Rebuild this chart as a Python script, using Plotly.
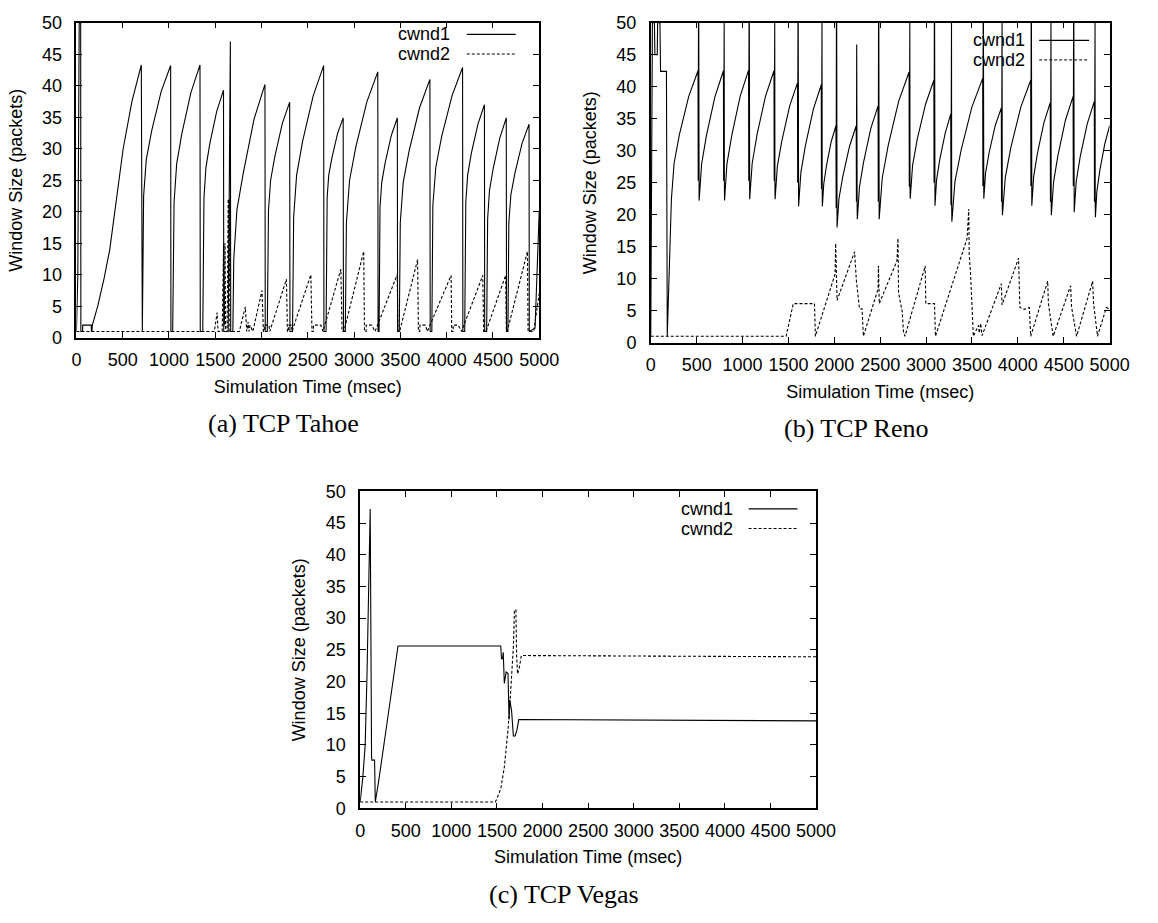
import plotly.graph_objects as go

# ---------------- data (time in msec, window in packets) ----------------
X_TICKS = [0, 500, 1000, 1500, 2000, 2500, 3000, 3500, 4000, 4500, 5000]
Y_TICKS = [0, 5, 10, 15, 20, 25, 30, 35, 40, 45, 50]
SERIES_NAMES = ["cwnd1", "cwnd2"]
CAPTIONS = ["(a) TCP Tahoe", "(b) TCP Reno", "(c) TCP Vegas"]

TAHOE_CWND1 = [
    (0, 1), (15, 10), (30, 50), (46, 50), (48, 1), (67, 1), (68, 2), (160, 2), (162, 1), (168, 1),
    (172, 2), (230, 5), (300, 9.5), (360, 14), (505, 30), (600, 37.5), (701, 43.3),
    (704, 1), (712, 1), (726, 22.5), (755, 28.3), (814, 32.9), (916, 39.1), (1018, 43.2),
    (1021, 1), (1040, 1), (1055, 21.5), (1083, 27.6), (1139, 32.4), (1237, 38.9), (1335, 43.3),
    (1338, 1), (1365, 1), (1378, 22.2), (1399, 27.0), (1441, 30.8), (1515, 35.9), (1589, 39.3),
    (1592, 1), (1640, 1), (1663, 47), (1667, 1), (1690, 1), (1700, 12.5), (1734, 20.3),
    (1801, 26), (1919, 34.7), (2037, 40.2),
    (2040, 1), (2062, 1), (2075, 20.2), (2098, 25.0), (2144, 28.8), (2224, 34.0), (2304, 37.4),
    (2307, 1), (2335, 1), (2347, 19.1), (2379, 25.8), (2444, 31.2), (2558, 38.4), (2671, 43.2),
    (2674, 1), (2697, 1), (2709, 22.3), (2726, 25.8), (2761, 28.6), (2821, 32.4), (2882, 34.9),
    (2885, 1), (2905, 1), (2917, 18.3), (2951, 25.0), (3019, 30.3), (3137, 37.4), (3256, 42.2),
    (3259, 1), (3270, 1), (3280, 20.7), (3299, 24.7), (3336, 27.8), (3402, 32.1), (3467, 34.9),
    (3470, 1), (3488, 1), (3499, 18.3), (3531, 24.7), (3595, 29.7), (3707, 36.5), (3819, 41.0),
    (3822, 1), (3840, 1), (3851, 21.0), (3883, 27.1), (3947, 32.0), (4060, 38.5), (4172, 42.9),
    (4175, 1), (4195, 1), (4207, 21.5), (4227, 25.8), (4267, 29.3), (4338, 33.9), (4408, 37.0),
    (4411, 1), (4432, 1), (4443, 18.9), (4463, 23.4), (4503, 26.9), (4574, 31.7), (4644, 34.9),
    (4647, 1), (4662, 1), (4672, 18.3), (4694, 22.7), (4737, 26.1), (4814, 30.8), (4890, 33.9),
    (4893, 1), (4955, 1.5), (5000, 20),
]

TAHOE_CWND2 = [
    (0, 1), (1490, 1), (1520, 4), (1530, 1), (1575, 1), (1590, 15), (1598, 2), (1605, 15),
    (1612, 1), (1628, 1), (1640, 22), (1646, 8), (1652, 22), (1658, 1), (1760, 1), (1825, 4.9),
    (1840, 1), (1855, 2.5), (1865, 1), (1875, 2), (1906, 1), (2005, 7.5), (2020, 1), (2030, 1),
    (2031, 2), (2080, 2), (2089, 1), (2269, 9.3), (2280, 1), (2290, 1), (2291, 2), (2325, 2),
    (2329, 1), (2533, 10), (2545, 1), (2560, 1), (2561, 2), (2640, 2), (2664, 1), (2857, 10.9),
    (2870, 1), (2890, 1), (3104, 13.7), (3112, 1), (3130, 1), (3131, 2), (3190, 2), (3227, 1),
    (3465, 10), (3475, 1), (3492, 1), (3686, 12.4), (3695, 1), (3710, 1), (3711, 2), (3770, 2),
    (3791, 1), (4048, 9.9), (4055, 1), (4070, 1), (4071, 2), (4125, 2), (4161, 1), (4390, 9.9),
    (4400, 1), (4425, 1), (4637, 9.9), (4645, 1), (4654, 1), (4873, 13.7), (4880, 1), (4940, 1),
    (5000, 7),
]

RENO_CWND1 = [
    (0, 1), (15, 45), (18, 50), (40, 50), (45, 45), (71, 45), (75, 50), (100, 50), (107, 42.4),
    (171, 42.4), (173, 1), (180, 1), (225, 22.4), (254, 28.0), (312, 32.5), (414, 38.5), (515, 42.5),
    (517, 25.3), (520, 50), (523, 50), (525, 25.3), (527, 22.2), (554, 27.9), (607, 32.4), (699, 38.4), (792, 42.5),
    (794, 25.3), (797, 50), (800, 50), (802, 25.3), (804, 22.2), (830, 27.9), (883, 32.4), (974, 38.5), (1066, 42.6),
    (1068, 25.3), (1071, 50), (1074, 50), (1076, 25.3), (1078, 22.4), (1105, 28.0), (1158, 32.5), (1250, 38.5), (1343, 42.5),
    (1345, 25.3), (1348, 50), (1351, 50), (1353, 25.3), (1355, 22.4), (1379, 27.5), (1428, 31.5), (1514, 37.0), (1599, 40.6),
    (1601, 25), (1604, 50), (1607, 50), (1609, 24), (1611, 21.3), (1636, 26.6), (1685, 30.8), (1772, 36.5), (1858, 40.3),
    (1860, 24), (1863, 50), (1866, 50), (1868, 24), (1870, 21.3), (1885, 24.8), (1914, 27.6), (1966, 31.4), (2018, 33.9),
    (2020, 21), (2023, 50), (2026, 50), (2028, 21), (2030, 18.0), (2051, 22.5), (2093, 26), (2166, 30.7), (2239, 33.9),
    (2241, 22), (2244, 46.6), (2247, 22), (2249, 21), (2251, 19.3), (2274, 24.3), (2319, 28.2), (2398, 33.5), (2477, 37.0),
    (2479, 22), (2482, 50), (2485, 50), (2487, 22), (2489, 19.3), (2522, 25.7), (2587, 30.8), (2701, 37.7), (2815, 42.3),
    (2817, 24.4), (2820, 50), (2823, 50), (2825, 24.4), (2827, 22.5), (2853, 27.7), (2904, 31.8), (2995, 37.3), (3085, 41.0),
    (3087, 25), (3090, 50), (3093, 50), (3095, 25), (3097, 21.4), (3114, 25.4), (3149, 28.6), (3209, 32.8), (3269, 35.7),
    (3271, 21.5), (3274, 50), (3277, 50), (3279, 21.5), (3281, 18.9), (3315, 25.2), (3382, 30.1), (3499, 36.8), (3617, 41.3),
    (3619, 24.5), (3622, 50), (3625, 50), (3627, 24.5), (3629, 22.5), (3648, 26.5), (3686, 29.6), (3753, 33.9), (3820, 36.7),
    (3822, 22), (3825, 50), (3828, 50), (3830, 22), (3832, 19.9), (3863, 25.8), (3924, 30.5), (4032, 36.8), (4140, 41.0),
    (4142, 24.5), (4145, 50), (4148, 50), (4150, 24.5), (4152, 21.4), (4172, 25.9), (4212, 29.5), (4283, 34.3), (4353, 37.5),
    (4355, 22), (4358, 50), (4361, 50), (4363, 22), (4365, 19.9), (4389, 25.1), (4436, 29.2), (4519, 34.8), (4602, 38.5),
    (4604, 24.5), (4607, 50), (4610, 50), (4612, 24.5), (4614, 20.4), (4636, 25.2), (4680, 29.1), (4756, 34.2), (4833, 37.7),
    (4835, 22), (4838, 50), (4841, 50), (4843, 22), (4845, 19.6), (4861, 23.6), (4892, 26.8), (4946, 31.0), (5000, 33.9),
]

RENO_CWND2 = [
    (0, 1), (1475, 1), (1553, 6.1), (1784, 6.1), (1794, 1), (2008, 10.7), (2015, 15.5), (2030, 6.6),
    (2221, 14.2), (2240, 9.8), (2274, 5.3), (2302, 5.3), (2317, 1), (2477, 8.4), (2481, 12),
    (2490, 6.1), (2683, 12.8), (2694, 16.3), (2700, 7.8), (2740, 4.8), (2754, 1.6), (2770, 1),
    (2985, 11.7), (2990, 12), (2997, 6.1), (3092, 6.1), (3102, 1), (3447, 16.3), (3465, 20.9),
    (3470, 13.8), (3485, 10.7), (3500, 6.1), (3515, 1), (3571, 2.7), (3580, 1.5), (3595, 3),
    (3610, 1.1), (3820, 9.2), (3828, 5.9), (4008, 13.2), (4015, 9.6), (4022, 5.5), (4070, 5.2),
    (4125, 5.5), (4140, 1), (4325, 9.6), (4333, 6.1), (4385, 1), (4575, 8.9), (4585, 5.6),
    (4640, 1), (4815, 9.6), (4825, 6.1), (4868, 1), (4965, 5.5), (5000, 5.2),
]

VEGAS_CWND1 = [
    (0, 1), (30, 5), (55, 10), (75, 21), (110, 47.2), (118, 8.3), (125, 8.3), (128, 7.6),
    (158, 7.6), (166, 1), (200, 4), (280, 12), (415, 25.6), (1542, 25.6), (1550, 23.6),
    (1561, 23.6), (1569, 24.6), (1581, 19.7), (1601, 21.5), (1621, 21.3), (1633, 14),
    (1640, 17.1), (1660, 15.5), (1680, 11.4), (1700, 11.4), (1720, 12.4), (1739, 14), (5000, 13.8),
]

VEGAS_CWND2 = [
    (0, 1), (1482, 1), (1502, 1.6), (1542, 3.1), (1581, 6.5), (1601, 9.3), (1621, 12.4),
    (1640, 16), (1660, 20.2), (1680, 25.4), (1692, 31.3), (1708, 31.3), (1716, 23.8),
    (1727, 21.2), (1747, 22.3), (1767, 24.1), (5000, 23.9),
]

# ---------------- layout helpers ----------------
W, H = 1158, 923
SANS = "Liberation Sans, Arial, sans-serif"
SERIF = "Liberation Serif, Times New Roman, serif"
FS = 18


def px(x):
    return x / W


def py(y):
    return 1 - y / H


# plot boxes in pixels: (left, right, top, bottom)
BOXES = [(73, 546, 13, 335), (660, 1129, 13, 340), (363, 829, 492, 816)]
LEGEND_POS = [  # text right edge, line x0, line x1, y1, y2
    (457, 472, 522, 25, 45),
    (1045, 1057, 1108, 31, 51),
    (746, 760, 810, 510, 530),
]

panels = [(TAHOE_CWND1, TAHOE_CWND2), (RENO_CWND1, RENO_CWND2), (VEGAS_CWND1, VEGAS_CWND2)]

fig = go.Figure()
annotations = []
shapes = []

for i, ((s1, s2), box) in enumerate(zip(panels, BOXES)):
    sfx = "" if i == 0 else str(i + 1)
    for s, name, dash, lw in ((s1, SERIES_NAMES[0], "solid", 1.1), (s2, SERIES_NAMES[1], "3px,2px", 1.1)):
        fig.add_trace(go.Scatter(
            x=[p[0] for p in s], y=[p[1] for p in s], mode="lines", name=name,
            line=dict(color="black", width=lw, dash=dash),
            xaxis="x" + sfx, yaxis="y" + sfx, showlegend=False, hoverinfo="skip",
        ))
    l, r, t, b = box
    common = dict(
        showline=True, linecolor="black", linewidth=1.5, mirror="ticks",
        ticks="inside", ticklen=6, tickwidth=1, tickcolor="black",
        showgrid=False, zeroline=False,
        tickfont=dict(family=SANS, size=FS, color="black"),
    )
    fig.layout["xaxis" + sfx] = dict(
        domain=[px(l), px(r)], anchor="y" + sfx, range=[0, 5000],
        tickvals=X_TICKS, ticktext=[str(v) for v in X_TICKS], ticklabelstandoff=5,
        title=dict(text="Simulation Time (msec)", font=dict(family=SANS, size=FS, color="black"), standoff=11),
        **common,
    )
    fig.layout["yaxis" + sfx] = dict(
        domain=[py(b), py(t)], anchor="x" + sfx, range=[0, 50],
        tickvals=Y_TICKS, ticktext=[str(v) for v in Y_TICKS], ticklabelstandoff=9,
        title=dict(text="Window Size (packets)", font=dict(family=SANS, size=FS, color="black"), standoff=15),
        **common,
    )
    # legend (text left, sample line right, as in gnuplot)
    tx, lx0, lx1, y1, y2 = LEGEND_POS[i]
    for name, yy, dash in ((SERIES_NAMES[0], y1, "solid"), (SERIES_NAMES[1], y2, "dot")):
        annotations.append(dict(
            x=px(tx), y=py(yy), xref="paper", yref="paper", text=name, showarrow=False,
            xanchor="right", yanchor="middle", font=dict(family=SANS, size=FS, color="black"),
        ))
        shapes.append(dict(
            type="line", xref="paper", yref="paper", x0=px(lx0), x1=px(lx1), y0=py(yy), y1=py(yy),
            line=dict(color="black", width=1.2 if dash == "solid" else 1.0,
                      dash="solid" if dash == "solid" else "3px,2px"),
        ))
    # caption
    annotations.append(dict(
        x=px((l + r) / 2 - 25), y=py(b + 88), xref="paper", yref="paper", text=CAPTIONS[i],
        showarrow=False, xanchor="center", yanchor="middle",
        font=dict(family=SERIF, size=26, color="black"),
    ))

fig.update_layout(
    width=W, height=H, autosize=False,
    margin=dict(l=0, r=0, t=0, b=0, pad=0),
    paper_bgcolor="white", plot_bgcolor="white",
    annotations=annotations, shapes=shapes, showlegend=False,
)

fig.write_html("out.html")
